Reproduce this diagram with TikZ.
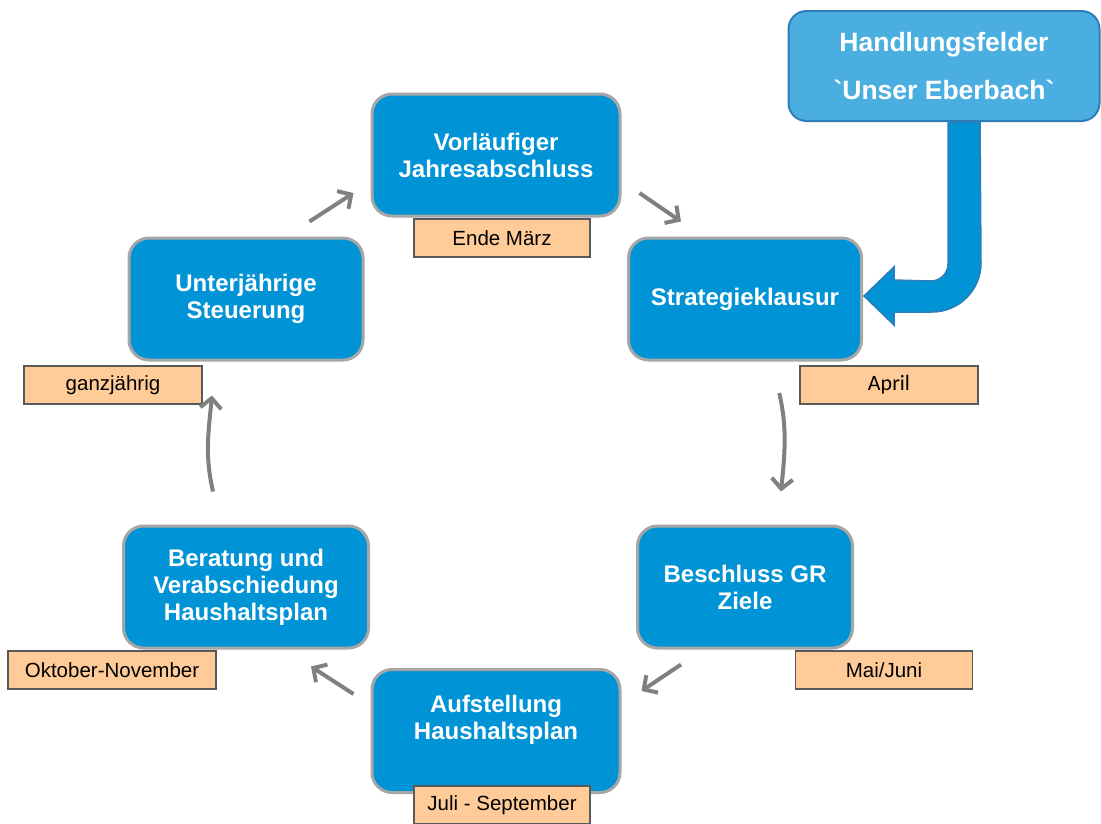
\documentclass[tikz,border=0pt]{standalone}
\usepackage{fontspec}
\setmainfont{Liberation Sans}
\newfontfamily\calfont{Carlito}
\usetikzlibrary{arrows.meta,calc}
\definecolor{stageblue}{HTML}{0093D5}
\definecolor{stagerim}{HTML}{A6A6A6}
\definecolor{peach}{HTML}{FFCC99}
\definecolor{peachrim}{HTML}{595959}
\definecolor{fieldblue}{HTML}{4BAEE0}
\definecolor{fieldrim}{HTML}{2C7DB8}
\definecolor{cycgray}{HTML}{808080}
\begin{document}
\begin{tikzpicture}[x=1pt, y=-1pt,
                    stage/.style = {shape = rectangle,
                                    rounded corners = 20pt,
                                    draw = stagerim,
                                    line width = 3pt,
                                    fill = stageblue,
                                    text = white,
                                    align = center,
                                    inner sep = 0pt,
                                    minimum height = 122pt,
                                    font=\bfseries\fontsize{24}{27}\selectfont},
                    month/.style = {shape = rectangle,
                                    draw = peachrim,
                                    line width = 1.5pt,
                                    fill = peach,
                                    inner sep = 0pt,
                                    minimum height = 38pt,
                                    font=\fontsize{20.5}{24}\selectfont},
                    cyc/.style = {draw = cycgray,
                                  line width = 4pt,
                                  -{Straight Barb[length=10pt,width=21pt]}},
                    feed/.style = {draw = fieldrim,
                                   line width = 1.5pt,
                                   fill = stageblue}]
		\useasboundingbox (0,0) rectangle (1101,823);
		\node[stage, minimum width = 248pt] (vorl) at (496,155) {Vorläufiger\\Jahresabschluss};
		\node[month, minimum width = 176pt] (maerz) at (502,238) {Ende März};
		\node[stage, minimum width = 233pt] (strat) at (745,299) {Strategieklausur};
		\node[month, minimum width = 178pt] (april) at (889,385) {\calfont\fontsize{22}{24}\selectfont April};
		\node[stage, minimum width = 215pt] (besch) at (745,587) {Beschluss GR\\Ziele};
		\node[month, minimum width = 177pt] (maijuni) at (884,670) {Mai/Juni};
		\node[stage, minimum width = 248pt, minimum height = 123pt] (aufst) at (496,731) {Aufstellung\\Haushaltsplan\\~};
		\node[month, minimum width = 176pt] (julisep) at (502,805) {Juli - September};
		\node[stage, minimum width = 245pt] (berat) at (246,587) {Beratung und\\Verabschiedung\\Haushaltsplan};
		\node[month, minimum width = 208pt] (oktnov) at (112,670) {Oktober-November};
		\node[stage, minimum width = 234pt] (unter) at (246,299) {Unterjährige\\Steuerung};
		\node[month, minimum width = 178pt] (ganz) at (113,385) {ganzjährig};
		\node[stage, draw = fieldrim, line width = 2pt, fill = fieldblue,
		      rounded corners = 18pt, minimum width = 311pt, minimum height = 110pt,
		      font=\bfseries\fontsize{26.5}{48}\selectfont] (handl) at (944,66)
		      {Handlungsfelder\\\textasciigrave Unser Eberbach\textasciigrave};
		% cycle
		\draw[cyc] ($(unter.north east)+(-55,-15)$) -- ($(vorl.west)+(-17,38)$);
		\draw[cyc] ($(vorl.east)+(18,38)$) -- ($(strat.north west)+(54,-15)$);
		\draw[cyc] ($(april.west)+(-20,8)$) .. controls +(8,35) and +(4,-40) .. ($(besch.north)+(36,-33)$);
		\draw[cyc] ($(besch.south west)+(45,15)$) -- ($(aufst.north east)+(20,23)$);
		\draw[cyc] ($(aufst.north west)+(-17,26)$) -- ($(berat.south east)+(-59,17)$);
		\draw[cyc] ($(berat.north)+(-33,-33)$) .. controls +(-8,-35) and +(-4,40) .. ($(unter.south)+(-34,34)$);
		% input arrow
		\coordinate (tip) at ($(strat.east)+(1,-3)$);
		\draw[feed] ($(handl.south)+(4,0)$) -- ++(0,142)
		      arc[start angle=0, end angle=90, radius=17]
		      -- ($(tip)+(30,-16)$) -- ++(0,-13) -- (tip) -- ++(30,29) -- ++(0,-13) -- ++(38,0)
		      arc[start angle=90, end angle=0, radius=49]
		      -- ($(handl.south)+(36,0)$) -- cycle;
\end{tikzpicture}
\end{document}
